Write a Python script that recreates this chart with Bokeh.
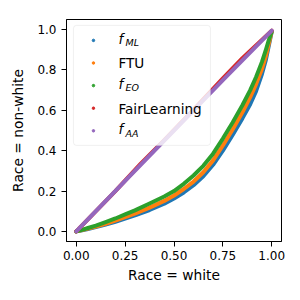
from bokeh.plotting import figure
from bokeh.models import Range1d, FixedTicker, BoxAnnotation, Label, ColumnDataSource
from bokeh.embed import file_html
from bokeh.resources import INLINE

# ---- data ----
x_ml = [0.0, 0.03, 0.06, 0.1, 0.15, 0.2, 0.25, 0.3, 0.375, 0.45, 0.5, 0.55, 0.6, 0.65, 0.7, 0.75,
        0.8, 0.85, 0.89, 0.92, 0.95, 0.97, 0.985, 1.0]
y_ml = [0.0, 0.006, 0.012, 0.021, 0.034, 0.048, 0.063, 0.079, 0.106, 0.137, 0.163, 0.193, 0.229,
        0.273, 0.330, 0.400, 0.478, 0.560, 0.630, 0.695, 0.780, 0.850, 0.920, 0.990]

x_ftu = [0.0, 0.03, 0.06, 0.1, 0.15, 0.2, 0.25, 0.3, 0.375, 0.45, 0.5, 0.55, 0.6, 0.65, 0.7, 0.75,
         0.8, 0.85, 0.89, 0.92, 0.95, 0.97, 0.985, 1.0]
y_ftu = [0.0, 0.007, 0.014, 0.024, 0.038, 0.054, 0.071, 0.088, 0.118, 0.151, 0.178, 0.210, 0.247,
         0.293, 0.352, 0.426, 0.505, 0.590, 0.665, 0.730, 0.805, 0.868, 0.930, 0.990]

x_eo = [0.0, 0.03, 0.06, 0.1, 0.15, 0.2, 0.25, 0.3, 0.375, 0.45, 0.5, 0.55, 0.6, 0.65, 0.7, 0.75,
        0.8, 0.85, 0.89, 0.92, 0.95, 0.97, 0.985, 1.0]
y_eo = [0.0, 0.008, 0.017, 0.029, 0.046, 0.064, 0.084, 0.104, 0.138, 0.173, 0.200, 0.236, 0.277,
        0.325, 0.385, 0.460, 0.540, 0.625, 0.700, 0.765, 0.840, 0.900, 0.948, 0.990]

x_fl = [0.0, 0.2, 0.33, 0.45, 0.6, 0.75, 0.85, 1.0]
y_fl = [0.0, 0.200, 0.336, 0.452, 0.603, 0.758, 0.858, 0.995]

x_aa = [0.0, 0.25, 0.5, 0.75, 1.0]
y_aa = [0.0, 0.250, 0.500, 0.750, 0.995]

series_names = ["f_ML", "FTU", "f_EO", "FairLearning", "f_AA"]
series_colors = ["#1f77b4", "#ff7f0e", "#2ca02c", "#d62728", "#9467bd"]

x_ticks = [0.0, 0.25, 0.5, 0.75, 1.0]
x_tick_labels = ["0.00", "0.25", "0.50", "0.75", "1.00"]
y_ticks = [0.0, 0.2, 0.4, 0.6, 0.8, 1.0]
y_tick_labels = ["0.0", "0.2", "0.4", "0.6", "0.8", "1.0"]

FONT = "DejaVu Sans"

p = figure(frame_width=215, frame_height=222,
           min_border_left=66, min_border_right=19, min_border_top=19, min_border_bottom=59,
           x_range=Range1d(-0.05, 1.05), y_range=Range1d(-0.05, 1.05),
           output_backend="svg", toolbar_location=None)
p.background_fill_color = "white"
p.border_fill_color = "white"
p.grid.visible = False
p.outline_line_color = "black"
p.outline_line_alpha = 1.0
p.outline_line_width = 1

for ax in (p.xaxis[0], p.yaxis[0]):
    ax.axis_line_color = "black"
    ax.major_tick_line_color = "black"
    ax.major_tick_out = 5
    ax.major_tick_in = 0
    ax.minor_tick_out = 0
    ax.minor_tick_in = 0
    ax.major_label_text_font = FONT
    ax.major_label_text_font_size = "12px"
    ax.major_label_text_color = "black"
    ax.axis_label_text_font = FONT
    ax.axis_label_text_font_size = "13.8px"
    ax.axis_label_text_font_style = "normal"
    ax.axis_label_text_color = "black"

p.xaxis.ticker = FixedTicker(ticks=x_ticks)
p.xaxis.major_label_overrides = dict(zip(x_ticks, x_tick_labels))
p.yaxis.ticker = FixedTicker(ticks=y_ticks)
p.yaxis.major_label_overrides = dict(zip(y_ticks, y_tick_labels))
p.xaxis.axis_label = "Race = white"
p.yaxis.axis_label = "Race = non-white"
p.xaxis.major_label_standoff = 4
p.yaxis.major_label_standoff = 5
p.xaxis.axis_label_standoff = 4
p.yaxis.axis_label_standoff = 8

xs = [x_ml, x_ftu, x_eo, x_fl, x_aa]
ys = [y_ml, y_ftu, y_eo, y_fl, y_aa]
for xv, yv, c in zip(xs, ys, series_colors):
    p.line(xv, yv, line_color=c, line_width=4, line_join="round", line_cap="round")

# ---- legend (layout in reference pixel positions, mapped to the axes) ----
FX0, FXS, FY0, FYS = 75.8, 195.5, 231.0, 201.8
def dx(px):
    return (px - FX0) / FXS
def dy(py):
    return (FY0 - py) / FYS

box = BoxAnnotation(left=dx(73), right=dx(210), top=dy(25), bottom=dy(145),
                    fill_color="white", fill_alpha=0.8,
                    line_color="#cccccc", line_width=1, border_radius=3)
p.add_layout(box)

rows = [40 + 22.6 * i for i in range(5)]
mk = ColumnDataSource(dict(x=[dx(93)] * 5, y=[dy(r) for r in rows], c=series_colors))
p.scatter("x", "y", source=mk, size=2.5, color="c", level="overlay")

TX = 118
for name, r in zip(series_names, rows):
    if name.startswith("f_"):
        p.add_layout(Label(x=dx(TX), y=dy(r - 1.5), text="f", text_font=FONT,
                           text_font_size="13.6px", text_font_style="italic",
                           text_color="black", text_align="left", text_baseline="middle"))
        p.add_layout(Label(x=dx(TX + 7), y=dy(r + 2.2), text=name[2:], text_font=FONT,
                           text_font_size="9.5px", text_font_style="italic",
                           text_color="black", text_align="left", text_baseline="middle"))
    else:
        p.add_layout(Label(x=dx(TX), y=dy(r + 0.5), text=name, text_font=FONT,
                           text_font_size="13.6px", text_color="black",
                           text_align="left", text_baseline="middle"))

open("out.html", "w").write(file_html(p, INLINE))
